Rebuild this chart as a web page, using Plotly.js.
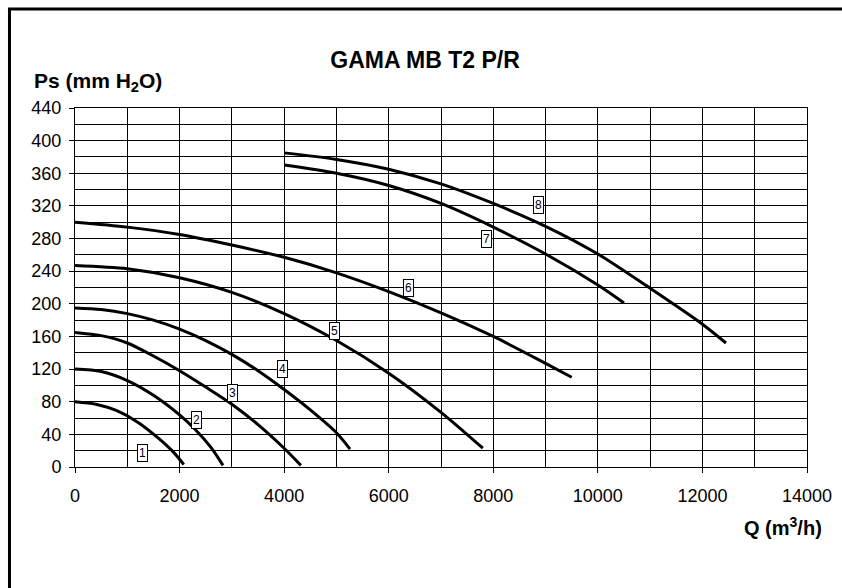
<!DOCTYPE html>
<html>
<head>
<meta charset="utf-8">
<script src="https://cdn.plot.ly/plotly-3.0.1.min.js"></script>
<style>html,body{margin:0;padding:0;background:#fff;}#chart{width:842px;height:588px;}</style>
</head>
<body>
<div id="chart"></div>
<script>
// Flow Q (m3/h) and static pressure Ps (mm H2O) for each curve
const q1 = [0, 400, 800, 1200, 1600, 1900, 2080];
const p1 = [80, 77, 69, 55, 35, 17, 3];
const q2 = [0, 500, 1000, 1500, 2000, 2300, 2600, 2830];
const p2 = [120, 117, 106, 88, 64, 46, 24, 2];
const q3 = [0, 500, 1000, 1500, 2000, 2500, 3000, 3500, 4000, 4320];
const p3 = [165, 161, 152, 136, 118, 98, 77, 52, 23, 2];
const q4 = [0, 500, 1000, 1500, 2000, 2500, 3000, 3500, 4000, 4500, 5000, 5260];
const p4 = [195, 193, 188, 180, 169, 155, 138, 118, 95, 70, 42, 22];
const q5 = [0, 1000, 2000, 3000, 4000, 5000, 6000, 7000, 7800];
const p5 = [247, 243, 232, 214, 188, 155, 115, 67, 23];
const q6 = [0, 1000, 2000, 3000, 4000, 5000, 6000, 7000, 8000, 9000, 9500];
const p6 = [300, 294, 285, 272, 257, 238, 215, 189, 160, 127, 110];
const q7 = [4000, 5000, 6000, 7000, 8000, 9000, 10000, 10500];
const p7 = [370, 360, 345, 323, 294, 261, 223, 201];
const q8 = [4000, 5000, 6000, 7000, 8000, 9000, 10000, 11000, 12000, 12450];
const p8 = [385, 377, 365, 347, 323, 295, 261, 219, 175, 152];

const curveNames = ['1', '2', '3', '4', '5', '6', '7', '8'];
const curvesQ = [q1, q2, q3, q4, q5, q6, q7, q8];
const curvesP = [p1, p2, p3, p4, p5, p6, p7, p8];

// Boxed curve labels (anchor in data units)
const labelQ = [1300, 2330, 3020, 3960, 4970, 6380, 7870, 8870];
const labelPs = [17, 58, 91, 120, 167, 220, 279, 321];

const xTickVals = [0, 2000, 4000, 6000, 8000, 10000, 12000, 14000];
const xTickText = ['0', '2000', '4000', '6000', '8000', '10000', '12000', '14000'];
const yTickVals = [0, 40, 80, 120, 160, 200, 240, 280, 320, 360, 400, 440];
const yTickText = ['0', '40', '80', '120', '160', '200', '240', '280', '320', '360', '400', '440'];

const FONT = 'Liberation Sans, Arial, Helvetica, sans-serif';

const traces = curvesQ.map((q, i) => ({
  x: q, y: curvesP[i], name: curveNames[i],
  type: 'scatter', mode: 'lines',
  line: {color: '#000', width: 3, shape: 'spline', smoothing: 0.8},
  hoverinfo: 'skip', showlegend: false
}));

const annotations = labelQ.map((q, i) => ({
  x: q, y: labelPs[i], xref: 'x', yref: 'y',
  text: curveNames[i], showarrow: false,
  font: {family: FONT, size: 12, color: '#000'},
  bgcolor: '#fff', bordercolor: '#000', borderwidth: 1, borderpad: 1
}));

annotations.push({
  xref: 'paper', yref: 'paper', x: -0.0587, y: 1.0724,
  xanchor: 'left', yanchor: 'middle', showarrow: false,
  text: '<b>Ps (mm H<sub>2</sub>O)</b>',
  font: {family: FONT, size: 21, color: '#000'}
});
annotations.push({
  xref: 'paper', yref: 'paper', x: 1.0232, y: -0.167,
  xanchor: 'right', yanchor: 'middle', showarrow: false,
  text: '<b>Q (m<sup>3</sup>/h)</b>',
  font: {family: FONT, size: 20, color: '#000'}
});

const layout = {
  width: 842, height: 588,
  margin: {l: 75, r: 35, t: 108, b: 121},
  paper_bgcolor: '#fff', plot_bgcolor: '#fff',
  title: {
    text: 'GAMA MB T2 P/R',
    font: {family: FONT, size: 23, color: '#000', weight: 'bold'},
    x: 0.5048, xref: 'container', xanchor: 'center',
    y: 0.898, yref: 'container', yanchor: 'middle'
  },
  xaxis: {
    range: [0, 14000], tickmode: 'array', tickvals: xTickVals, ticktext: xTickText,
    ticks: 'outside', ticklen: 5, tickcolor: '#000', tickwidth: 1,
    ticklabelstandoff: 7,
    tickfont: {family: FONT, size: 18, color: '#000'},
    showgrid: true, gridcolor: '#000', gridwidth: 1,
    minor: {dtick: 1000, showgrid: true, gridcolor: '#000', gridwidth: 1, ticks: ''},
    showline: true, linecolor: '#000', linewidth: 1, mirror: true,
    zeroline: false, fixedrange: true
  },
  yaxis: {
    range: [0, 440], tickmode: 'array', tickvals: yTickVals, ticktext: yTickText,
    ticks: 'outside', ticklen: 5, tickcolor: '#000', tickwidth: 1,
    ticklabelstandoff: 4,
    tickfont: {family: FONT, size: 18, color: '#000'},
    showgrid: true, gridcolor: '#000', gridwidth: 1,
    minor: {dtick: 20, showgrid: true, gridcolor: '#000', gridwidth: 1, ticks: ''},
    showline: true, linecolor: '#000', linewidth: 1, mirror: true,
    zeroline: false, fixedrange: true
  },
  annotations: annotations,
  shapes: [{
    type: 'rect', xref: 'paper', yref: 'paper',
    x0: -0.0895, x1: 2, y0: -1, y1: 1.2758,
    line: {color: '#000', width: 3}, fillcolor: 'rgba(0,0,0,0)', layer: 'below'
  }]
};

Plotly.newPlot('chart', traces, layout, {staticPlot: true, displayModeBar: false});
</script>
</body>
</html>
